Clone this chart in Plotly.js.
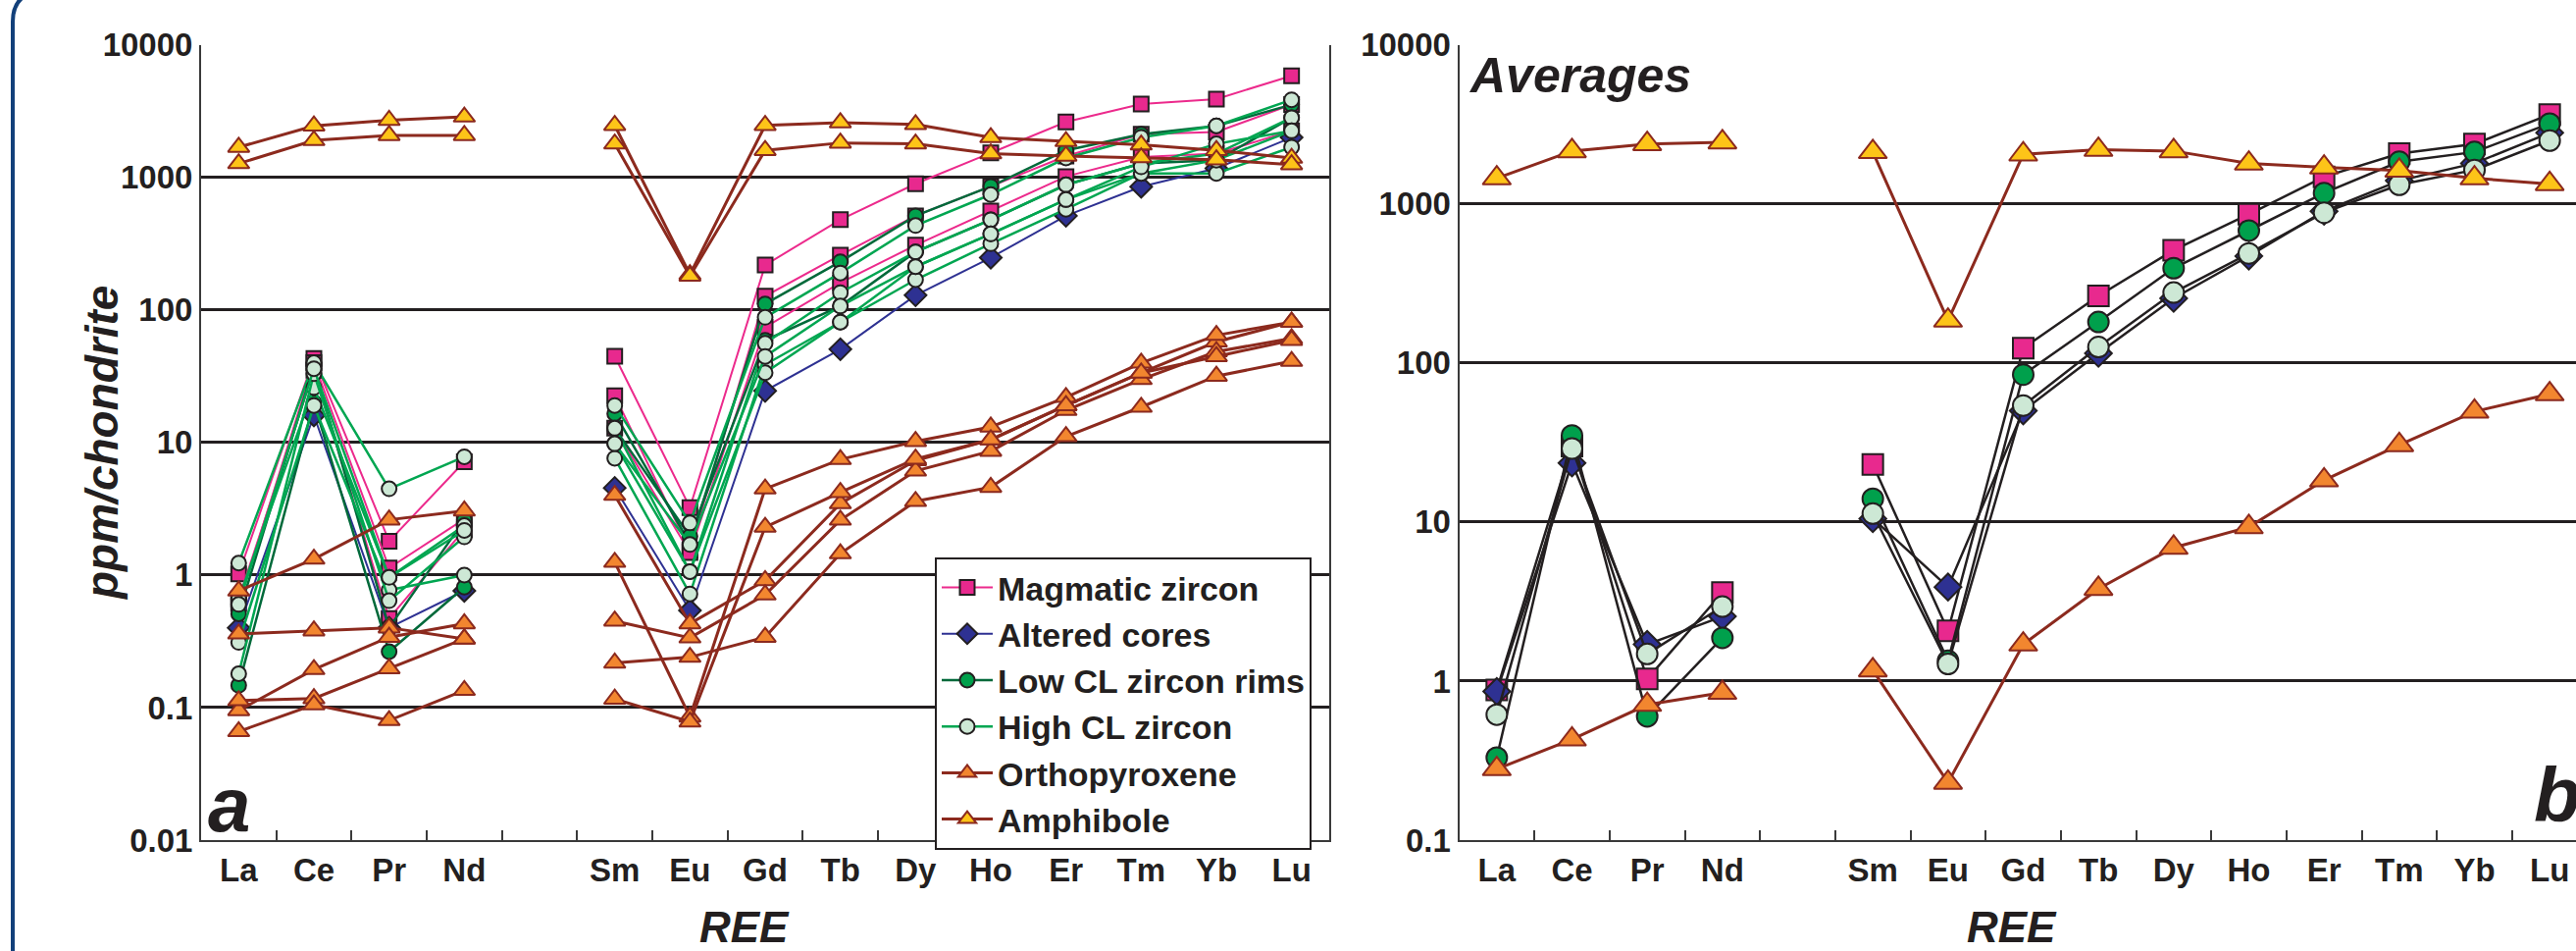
<!DOCTYPE html>
<html><head><meta charset="utf-8">
<script src="https://cdn.plot.ly/plotly-3.0.1.min.js"></script>
<style>html,body{margin:0;padding:0;overflow:hidden;background:#fff}#chart{width:2660px;height:969px}</style>
</head><body><div id="chart"></div>
<script>
// ---------- categories / tick labels ----------
const ree = ['La','Ce','Pr','Nd','','Sm','Eu','Gd','Tb','Dy','Ho','Er','Tm','Yb','Lu']; // '' = Pm (no data)
const yTicksA = [0.01, 0.1, 1, 10, 100, 1000, 10000];
const yTicksB = [0.1, 1, 10, 100, 1000, 10000];
const yTickTextA = ['0.01','0.1','1','10','100','1000','10000'];
const yTickTextB = ['0.1','1','10','100','1000','10000'];

// ---------- panel a : individual analyses (ppm/chondrite) ----------
const magmaticA = [
  [1.02, 43, 1.8, 7.15, null, 44.7, 3.23, 218, 480, 895, 1530, 2620, 3580, 3900, 5840],
  [0.61, 40, 1.13, 2.64, null, 22.5, 1.54, 127, 259, 513, 855, 1450, 2120, 2200, 3540],
  [0.66, 35, 0.47, 2.2, null, 12.8, 1.48, 74, 160, 308, 558, 1015, 1425, 1510, 2245]
];
const alteredA = [
  [0.40, 16, 0.40, 0.76, null, 4.54, 0.54, 24.5, 50.5, 129, 248, 513, 850, 1170, 2000]
];
const lowCLA = [
  [0.51, 38, 0.40, 2.6, null, 16.5, 1.73, 111, 231, 513, 855, 1600, 2120, 2450, 3540],
  [0.147, 20, 0.264, 0.81, null, 12.8, 1.96, 59, 107, 274, 479, 880, 1273, 1350, 2820]
];
const highCLA = [
  [1.23, 40, 4.47, 7.8, null, 19, 2.47, 88, 190, 433, 742, 1400, 2005, 2450, 3850],
  [0.66, 26, 0.96, 2.36, null, 9.8, 1.06, 56, 135, 274, 479, 880, 1273, 1510, 2820],
  [0.31, 19, 0.77, 1.0, null, 7.6, 0.72, 38.7, 81, 169, 316, 575, 1072, 1072, 1690],
  [0.18, 33, 0.64, 1.94, null, 12.8, 1.06, 33.6, 81, 212, 375, 680, 1072, 1350, 2245],
  [0.6, 36, 0.96, 2.17, null, 9.8, 1.7, 44.6, 107, 212, 375, 680, 1200, 1790, 2245]
];
const orthopyroxeneA = [
  [0.76, 1.32, 2.61, 3.05, null, 4.0, 0.43, 0.91, 3.46, 7.3, 10.5, 19, 33.5, 57.5, 81],
  [0.36, 0.38, 0.40, 0.33, null, 1.25, 0.085, 4.47, 7.45, 10.2, 13.1, 21.9, 39.8, 64.4, 81],
  [0.095, 0.194, 0.34, 0.43, null, 0.45, 0.336, 0.71, 2.6, 6.1, 8.6, 17.5, 29.9, 48.5, 61],
  [0.113, 0.117, 0.197, 0.33, null, 0.217, 0.24, 0.34, 1.45, 3.6, 4.6, 11.1, 18.5, 31.7, 41],
  [0.066, 0.105, 0.080, 0.135, null, 0.116, 0.078, 2.30, 4.2, 7.5, 10.5, 19, 33.5, 44.6, 59]
];
const amphiboleA = [
  [1690, 2450, 2700, 2860, null, 2470, 185, 2470, 2590, 2510, 2000, 1870, 1760, 1600, 1400],
  [1273, 1900, 2075, 2075, null, 1790, 180, 1600, 1820, 1790, 1510, 1450, 1410, 1360, 1250]
];

// ---------- panel b : averages ----------
const magmaticB = [0.88, 30, 1.03, 3.6, null, 23, 2.07, 124, 264, 512, 861, 1480, 2070, 2380, 3650];
const alteredB  = [0.86, 23.5, 1.70, 2.55, null, 10.5, 3.9, 50, 115, 255, 470, 900, 1400, 1800, 2800];
const lowCLB    = [0.33, 35, 0.60, 1.87, null, 14, 1.34, 84.5, 181, 394, 680, 1170, 1840, 2120, 3200];
const highCLB   = [0.615, 29, 1.48, 2.94, null, 11.3, 1.28, 54, 126, 277, 488, 881, 1318, 1635, 2500];
const orthopyroxeneB = [0.28, 0.43, 0.71, 0.845, null, 1.17, 0.23, 1.70, 3.8, 6.9, 9.3, 18.3, 30.5, 49.5, 63.7];
const amphiboleB = [1450, 2150, 2380, 2440, null, 2120, 185, 2050, 2190, 2150, 1795, 1695, 1620, 1450, 1335];

// ---------- styling ----------
const W = 2660, H = 969;
const FONT = 'Liberation Sans, Arial, Helvetica, sans-serif';
const INK = '#231f20';
const DARKRED = '#8c2a1e';
const px = v => v / W, py = v => 1 - v / H;
const xIdx = ree.map((_, i) => i);

const styleA = {
  mag:  {line: '#ec2a8c', lw: 2,   sym: 'square',      fill: '#e8298e', edge: INK,     size: 15},
  alt:  {line: '#2e3192', lw: 2,   sym: 'diamond',     fill: '#2e3192', edge: INK,     size: 17},
  low:  {line: '#00693a', lw: 2.5, sym: 'circle',      fill: '#00a04c', edge: INK,     size: 15},
  high: {line: '#00a651', lw: 2.5, sym: 'circle',      fill: '#cde8d5', edge: INK,     size: 15},
  opx:  {line: DARKRED,   lw: 3,   sym: 'triangle-up', fill: '#f2862f', edge: DARKRED, size: 19},
  amph: {line: DARKRED,   lw: 3,   sym: 'triangle-up', fill: '#fdc418', edge: DARKRED, size: 19}
};
const styleB = {
  mag:  {line: INK,     lw: 2.5, sym: 'square',      fill: '#e8298e', edge: INK,     size: 21},
  alt:  {line: INK,     lw: 2.5, sym: 'diamond',     fill: '#2e3192', edge: INK,     size: 21},
  low:  {line: INK,     lw: 2.5, sym: 'circle',      fill: '#00a04c', edge: INK,     size: 21},
  high: {line: INK,     lw: 2.5, sym: 'circle',      fill: '#cde8d5', edge: INK,     size: 21},
  opx:  {line: DARKRED, lw: 3,   sym: 'triangle-up', fill: '#f2862f', edge: DARKRED, size: 25},
  amph: {line: DARKRED, lw: 3,   sym: 'triangle-up', fill: '#fdc418', edge: DARKRED, size: 25}
};
const names = {mag: 'Magmatic zircon', alt: 'Altered cores', low: 'Low CL zircon rims',
               high: 'High CL zircon', opx: 'Orthopyroxene', amph: 'Amphibole'};

function trace(y, key, st, xa, ya, showlegend) {
  return {
    type: 'scatter', mode: 'lines+markers', x: xIdx, y: y,
    xaxis: xa, yaxis: ya, name: names[key], legendgroup: key, showlegend: showlegend,
    connectgaps: false, hoverinfo: 'skip',
    line: {color: st.line, width: st.lw},
    marker: {symbol: st.sym, size: st.size, color: st.fill, line: {color: st.edge, width: 2}}
  };
}

const data = [];
const groupsA = [['mag', magmaticA], ['alt', alteredA], ['low', lowCLA], ['high', highCLA],
                 ['opx', orthopyroxeneA], ['amph', amphiboleA]];
groupsA.forEach(([k, arr]) => arr.forEach((y, i) => data.push(trace(y, k, styleA[k], 'x', 'y', i === 0))));
const groupsB = [['mag', magmaticB], ['alt', alteredB], ['low', lowCLB], ['high', highCLB],
                 ['opx', orthopyroxeneB], ['amph', amphiboleB]];
groupsB.forEach(([k, y]) => data.push(trace(y, k, styleB[k], 'x2', 'y2', false)));

const tickFont = {family: FONT, size: 33, color: INK, weight: 'bold'};
const boundaries = ree.slice(1).map((_, i) => i + 0.5);

function xAxis(domain, anchor) {
  return {
    domain: domain, anchor: anchor, range: [-0.5, ree.length - 0.5], fixedrange: true,
    tickmode: 'array', tickvals: xIdx, ticktext: ree, ticks: '', tickfont: tickFont,
    showgrid: false, zeroline: false, showline: true, linecolor: '#3a3a3a', linewidth: 2,
    minor: {tickmode: 'array', tickvals: boundaries, ticks: 'inside', ticklen: 10,
            tickwidth: 2, tickcolor: '#3a3a3a', showgrid: false}
  };
}
function yAxis(range, tv, tt, anchor) {
  return {
    domain: [py(856), py(45.7)], anchor: anchor, type: 'log', range: range, fixedrange: true,
    tickmode: 'array', tickvals: tv, ticktext: tt, ticks: '', tickfont: tickFont,
    showgrid: true, gridcolor: INK, gridwidth: 3, zeroline: false,
    showline: true, mirror: true, linecolor: '#3a3a3a', linewidth: 2
  };
}

const titleFont = s => ({family: FONT, size: s, color: INK, weight: 'bold', style: 'italic'});

const layout = {
  width: W, height: H, margin: {l: 0, r: 0, t: 0, b: 0},
  paper_bgcolor: '#ffffff', plot_bgcolor: '#ffffff',
  xaxis: xAxis([px(205), px(1355)], 'y'),
  yaxis: yAxis([-2, 4], yTicksA, yTickTextA, 'x'),
  xaxis2: xAxis([px(1487.5), px(2637.5)], 'y2'),
  yaxis2: yAxis([-1, 4], yTicksB, yTickTextB, 'x2'),
  showlegend: true,
  legend: {
    x: px(953), xanchor: 'left', y: py(568), yanchor: 'top',
    bgcolor: '#ffffff', bordercolor: INK, borderwidth: 2,
    font: {family: FONT, size: 34, color: INK, weight: 'bold'},
    itemwidth: 52, tracegroupgap: 0, traceorder: 'normal'
  },
  annotations: [
    {text: 'ppm/chondrite', xref: 'paper', yref: 'paper', x: px(104), y: py(452), textangle: -90,
     showarrow: false, xanchor: 'center', yanchor: 'middle', font: titleFont(46)},
    {text: 'REE', xref: 'paper', yref: 'paper', x: px(759), y: py(944), showarrow: false,
     xanchor: 'center', yanchor: 'middle', font: titleFont(44)},
    {text: 'REE', xref: 'paper', yref: 'paper', x: px(2051), y: py(944), showarrow: false,
     xanchor: 'center', yanchor: 'middle', font: titleFont(44)},
    {text: 'Averages', xref: 'paper', yref: 'paper', x: px(1495), y: py(77), showarrow: false,
     xanchor: 'left', yanchor: 'middle', font: titleFont(50)},
    {text: 'a', xref: 'paper', yref: 'paper', x: px(210), y: py(820), showarrow: false,
     xanchor: 'left', yanchor: 'middle', font: titleFont(78)},
    {text: 'b', xref: 'paper', yref: 'paper', x: px(2581), y: py(810), showarrow: false,
     xanchor: 'left', yanchor: 'middle', font: titleFont(78)}
  ],
  shapes: [
    {type: 'path', xref: 'paper', yref: 'paper', layer: 'above',
     path: `M ${px(13)},${py(975)} L ${px(13)},${py(22)} Q ${px(13)},${py(-2)} ${px(34)},${py(-8)}`,
     line: {color: '#13407a', width: 4}}
  ]
};

Plotly.newPlot('chart', data, layout, {displayModeBar: false, staticPlot: true});
</script>
</body></html>
